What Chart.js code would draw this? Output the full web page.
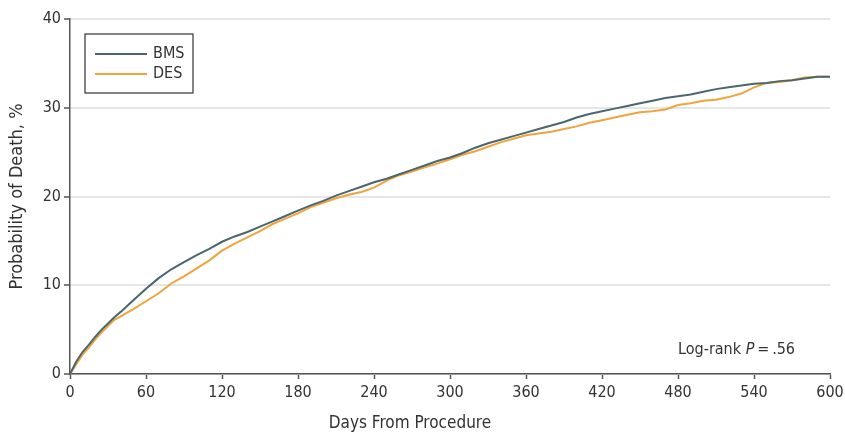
<!DOCTYPE html>
<html>
<head>
<meta charset="utf-8">
<script src="https://cdn.jsdelivr.net/npm/chart.js@4.4.1/dist/chart.umd.min.js"></script>
<style>
  html, body { margin: 0; padding: 0; background: #fff; }
  #wrap { width: 845px; height: 438px; }
</style>
</head>
<body>
<div id="wrap"><canvas id="courbe"></canvas></div>
<script>
// Données (jours / probabilité de décès en %)
const jours = [0, 5, 10, 15, 20, 25, 30, 35, 40, 50, 60, 70, 80, 90, 100, 110, 120, 130, 140, 150,
  160, 170, 180, 190, 200, 210, 220, 230, 240, 250, 260, 270, 280, 290, 300, 310, 320, 330, 340, 350,
  360, 370, 380, 390, 400, 410, 420, 430, 440, 450, 460, 470, 480, 490, 500, 510, 520, 530, 540, 550,
  560, 570, 580, 590, 600];
const bms = [0, 1.4, 2.5, 3.3, 4.2, 5.0, 5.7, 6.4, 7.0, 8.3, 9.6, 10.8, 11.8, 12.6, 13.4, 14.1, 14.9, 15.5, 16.0, 16.6,
  17.2, 17.8, 18.4, 19.0, 19.5, 20.1, 20.6, 21.1, 21.6, 22.0, 22.5, 23.0, 23.5, 24.0, 24.4, 24.9, 25.5, 26.0, 26.4, 26.8,
  27.2, 27.6, 28.0, 28.4, 28.9, 29.3, 29.6, 29.9, 30.2, 30.5, 30.8, 31.1, 31.3, 31.5, 31.8, 32.1, 32.3, 32.5, 32.7, 32.8,
  33.0, 33.1, 33.3, 33.5, 33.5];
const des = [0, 1.1, 2.2, 3.0, 3.9, 4.7, 5.4, 6.1, 6.5, 7.3, 8.2, 9.1, 10.2, 11.0, 11.9, 12.8, 13.9, 14.7, 15.4, 16.1,
  16.9, 17.5, 18.1, 18.8, 19.3, 19.8, 20.2, 20.5, 21.0, 21.8, 22.4, 22.8, 23.3, 23.7, 24.2, 24.7, 25.1, 25.6, 26.1, 26.5,
  26.9, 27.1, 27.3, 27.6, 27.9, 28.3, 28.6, 28.9, 29.2, 29.5, 29.6, 29.8, 30.3, 30.5, 30.8, 30.9, 31.2, 31.6, 32.3, 32.8,
  32.9, 33.1, 33.4, 33.5, 33.5];
const ticksX = [0, 60, 120, 180, 240, 300, 360, 420, 480, 540, 600];
const ticksY = [0, 10, 20, 30, 40];

const POLICE = "'Liberation Sans Narrow', 'DejaVu Sans Condensed', sans-serif";
const couleurBMS = '#4b666e';
const couleurDES = '#f0a43c';
const texte = '#333333';

// légende encadrée + titre de l'axe X + annotation du test
const decor = {
  id: 'decor',
  afterDraw(chart) {
    const ctx = chart.ctx;
    const area = chart.chartArea;
    ctx.save();
    // encadré de légende
    const bx = area.left + 15, by = area.top + 15;
    ctx.strokeStyle = '#333';
    ctx.lineWidth = 1.2;
    ctx.strokeRect(bx, by, 108, 59);
    const series = [['BMS', couleurBMS], ['DES', couleurDES]];
    ctx.font = '16px ' + POLICE;
    ctx.textBaseline = 'middle';
    series.forEach((s, i) => {
      const y = by + 20 + i * 20;
      ctx.strokeStyle = s[1];
      ctx.lineWidth = 2;
      ctx.beginPath();
      ctx.moveTo(bx + 10, y);
      ctx.lineTo(bx + 62, y);
      ctx.stroke();
      ctx.fillStyle = texte;
      ctx.textAlign = 'left';
      ctx.fillText(s[0], bx + 68, y);
    });
    // titre axe X
    ctx.font = '17px ' + POLICE;
    ctx.textAlign = 'center';
    ctx.textBaseline = 'middle';
    ctx.fillText('Days From Procedure', 410, 424);
    // Log-rank P=.56
    ctx.textAlign = 'left';
    let x = 678;
    const yl = 350;
    ctx.font = '16px ' + POLICE;
    ctx.fillText('Log-rank ', x, yl);
    x += ctx.measureText('Log-rank ').width;
    ctx.font = 'italic 16px ' + POLICE;
    ctx.fillText('P', x, yl);
    x += ctx.measureText('P').width;
    ctx.font = '16px ' + POLICE;
    ctx.fillText('\u2009=\u2009.56', x, yl);
    ctx.restore();
  }
};

const ctx = document.getElementById('courbe');
new Chart(ctx, {
  type: 'line',
  data: {
    datasets: [
      {
        label: 'BMS',
        data: jours.map((j, i) => ({ x: j, y: bms[i] })),
        borderColor: couleurBMS,
        borderWidth: 2,
        pointRadius: 0,
        tension: 0,
        order: 1
      },
      {
        label: 'DES',
        data: jours.map((j, i) => ({ x: j, y: des[i] })),
        borderColor: couleurDES,
        borderWidth: 2,
        pointRadius: 0,
        tension: 0,
        order: 2
      }
    ]
  },
  options: {
    responsive: true,
    maintainAspectRatio: false,
    animation: false,
    layout: { padding: { top: 19, right: 15, left: 0, bottom: 0 } },
    plugins: {
      legend: { display: false },
      tooltip: { enabled: false }
    },
    scales: {
      x: {
        type: 'linear',
        min: 0,
        max: 600,
        afterBuildTicks: (axis) => { axis.ticks = ticksX.map(v => ({ value: v })); },
        afterFit: (axis) => { axis.height = 64; axis.paddingRight = 0; },
        grid: { drawOnChartArea: false, tickLength: 5, tickColor: '#555', tickWidth: 1.5 },
        border: { color: '#555', width: 1.5 },
        ticks: { color: texte, font: { family: POLICE, size: 16 }, padding: 4, maxRotation: 0 }
      },
      y: {
        min: 0,
        max: 40,
        afterBuildTicks: (axis) => { axis.ticks = ticksY.map(v => ({ value: v })); },
        afterFit: (axis) => { axis.width = 70; },
        grid: { color: '#e6e6e6', lineWidth: 2, tickLength: 6, tickColor: '#555', tickWidth: 1.5 },
        border: { color: '#555', width: 1.5 },
        ticks: { color: texte, font: { family: POLICE, size: 16 }, padding: 3 },
        title: {
          display: true,
          text: 'Probability of Death, %',
          color: texte,
          font: { family: POLICE, size: 18 },
          padding: { top: 7, bottom: 0 }
        }
      }
    }
  },
  plugins: [decor]
});
</script>
</body>
</html>
